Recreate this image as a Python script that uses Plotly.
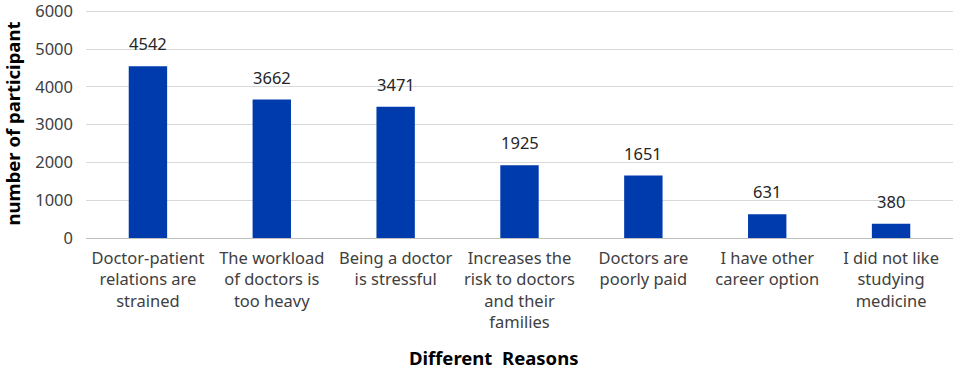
import plotly.graph_objects as go

categories = [
    "Doctor-patient<br>relations are<br>strained",
    "The workload<br>of doctors is<br>too heavy",
    "Being a doctor<br>is stressful",
    "Increases the<br>risk to doctors<br>and their<br>families",
    "Doctors are<br>poorly paid",
    "I have other<br>career option",
    "I did not like<br>studying<br>medicine",
]
values = [4542, 3662, 3471, 1925, 1651, 631, 380]
y_ticks = [0, 1000, 2000, 3000, 4000, 5000, 6000]

FONT = "Noto Sans, sans-serif"
TXT = "#404040"
FS = 16.5

L, R, T, B = 86, 4, 9, 131
W, H = 957, 369

fig = go.Figure()
fig.add_trace(go.Bar(
    x=categories, y=values,
    marker=dict(color="#003BAE", line=dict(width=0)),
    width=0.31,
    hoverinfo="x+y",
))
for c, v in zip(categories, values):
    fig.add_annotation(x=c, y=v, text=str(v), showarrow=False, yanchor="bottom",
                       yshift=9, font=dict(family=FONT, size=FS, color="#262626"))

fig.update_layout(
    width=W, height=H,
    margin=dict(l=L, r=R, t=T, b=B, autoexpand=False),
    plot_bgcolor="white", paper_bgcolor="white",
    showlegend=False,
    font=dict(family=FONT, size=FS, color=TXT),
    xaxis=dict(
        showline=True, linecolor="#BFBFBF", linewidth=1,
        ticks="", tickfont=dict(family=FONT, size=FS, color=TXT),
        tickangle=0, automargin=False, ticklabelstandoff=5,
    ),
    yaxis=dict(
        range=[0, 6060], tickvals=y_ticks,
        showgrid=True, gridcolor="#D9D9D9", gridwidth=1,
        zeroline=False, showline=False, ticks="",
        tickfont=dict(family=FONT, size=FS, color=TXT),
        ticklabelstandoff=12, automargin=False, ticklabeloverflow="allow",
        title=dict(text="<b>number of participant</b>", font=dict(family=FONT, size=18.5, color="#000000"), standoff=10),
    ),
)
plot_w = W - L - R
plot_h = H - T - B
fig.add_annotation(x=(493 - L) / plot_w, xref="paper", y=(H - B - 357) / plot_h, yref="paper",
                   yanchor="middle", text="<b>Different  Reasons</b>",
                   showarrow=False, font=dict(family=FONT, size=18.5, color="#000000"))

fig.write_html("out.html", config={"displayModeBar": False},
               post_script="document.body.style.margin='0';document.body.style.overflow='hidden';")
